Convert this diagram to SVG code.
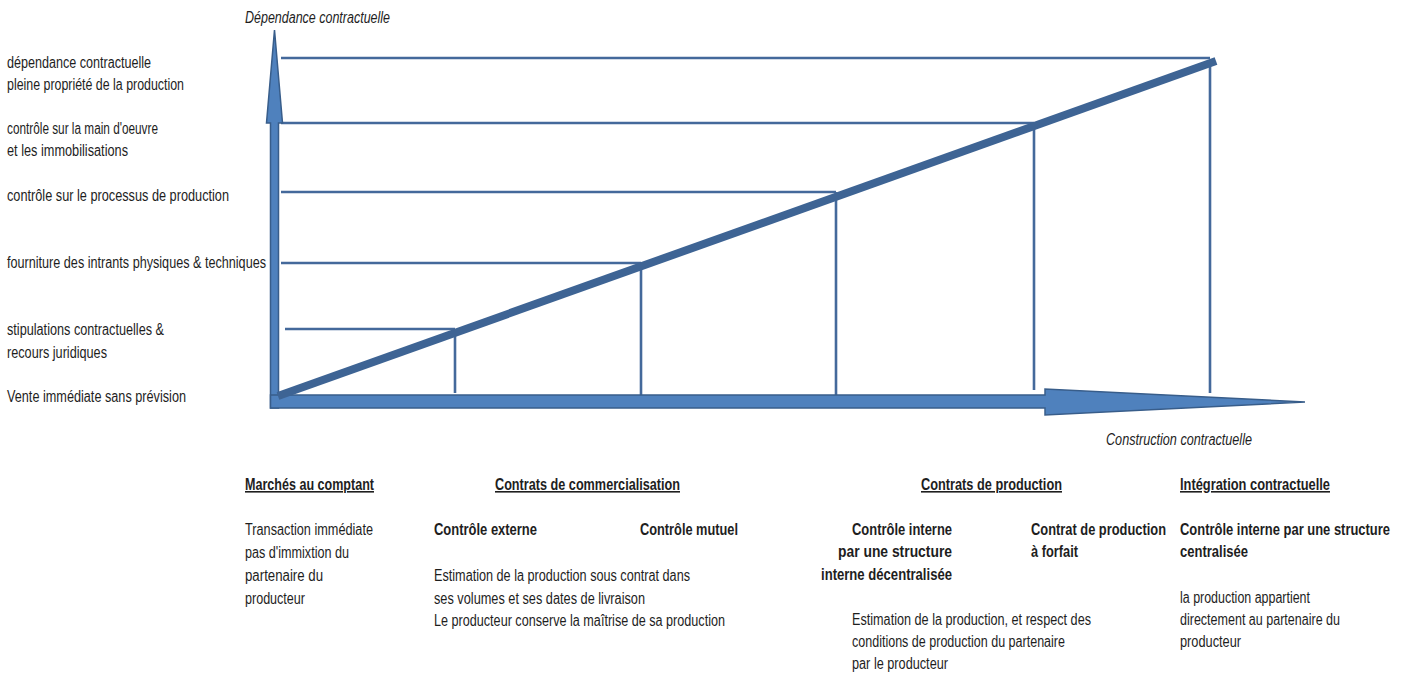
<svg xmlns="http://www.w3.org/2000/svg" width="1405" height="673" viewBox="0 0 1405 673">
<style>
text{font-family:"Liberation Sans",Arial,sans-serif;font-size:16px;fill:#1e1e1e}
.it{font-style:italic}
.b{font-weight:bold}
.h{font-weight:bold;text-decoration:underline}
.thin{stroke:#44699b;stroke-width:2.6;fill:none}
.axis{fill:#4f81bd;stroke:#385d8a;stroke-width:1.5}
</style>
<rect width="1405" height="673" fill="#ffffff"/>
<g id="connectors">
<line class="thin" x1="281" y1="58" x2="1210" y2="58"/>
<line class="thin" x1="281" y1="123" x2="1034" y2="123"/>
<line class="thin" x1="281" y1="192" x2="836" y2="192"/>
<line class="thin" x1="281" y1="263" x2="641" y2="263"/>
<line class="thin" x1="285" y1="329" x2="455" y2="329"/>
<line class="thin" x1="1210" y1="62" x2="1210" y2="393"/>
<line class="thin" x1="1034" y1="123" x2="1034" y2="390"/>
<line class="thin" x1="836" y1="192" x2="836" y2="395"/>
<line class="thin" x1="641" y1="263" x2="641" y2="395"/>
<line class="thin" x1="455" y1="329" x2="455" y2="393"/>
</g>
<g id="axis-y">
<polygon class="axis" points="270.5,408 270.5,123 266.5,123 274.5,30 282.5,123 278.5,123 278.5,408"/>
</g>
<g id="axis-x">
<polygon class="axis" points="270.5,395 1045,395 1045,389 1305,402 1045,415 1045,408 270.5,408"/>
</g>
<g id="diagonal">
<line x1="278" y1="396" x2="1216" y2="61" stroke="#3e6494" stroke-width="8"/>
</g>
<g id="axis-titles">
<text class="it" x="245" y="23" textLength="145" lengthAdjust="spacingAndGlyphs">Dépendance contractuelle</text>
<text class="it" x="1106" y="445" textLength="146" lengthAdjust="spacingAndGlyphs">Construction contractuelle</text>
</g>
<g id="levels">
<text x="7" y="68" textLength="144" lengthAdjust="spacingAndGlyphs">dépendance contractuelle</text>
<text x="7" y="90" textLength="177" lengthAdjust="spacingAndGlyphs">pleine propriété de la production</text>
<text x="7" y="134" textLength="151" lengthAdjust="spacingAndGlyphs">contrôle sur la main d'oeuvre</text>
<text x="7" y="156" textLength="121" lengthAdjust="spacingAndGlyphs">et les immobilisations</text>
<text x="7" y="201" textLength="222" lengthAdjust="spacingAndGlyphs">contrôle sur le processus de production</text>
<text x="7" y="268" textLength="259" lengthAdjust="spacingAndGlyphs">fourniture des intrants physiques &amp; techniques</text>
<text x="7" y="335" textLength="157" lengthAdjust="spacingAndGlyphs">stipulations contractuelles &amp;</text>
<text x="7" y="358" textLength="100" lengthAdjust="spacingAndGlyphs">recours juridiques</text>
<text x="7" y="402" textLength="179" lengthAdjust="spacingAndGlyphs">Vente immédiate sans prévision</text>
</g>
<g id="marches">
<text class="h" x="245" y="490" textLength="129" lengthAdjust="spacingAndGlyphs">Marchés au comptant</text>
<text x="245" y="535" textLength="128" lengthAdjust="spacingAndGlyphs">Transaction immédiate</text>
<text x="245" y="558" textLength="104" lengthAdjust="spacingAndGlyphs">pas d'immixtion du</text>
<text x="245" y="581" textLength="78" lengthAdjust="spacingAndGlyphs">partenaire du</text>
<text x="245" y="604" textLength="60" lengthAdjust="spacingAndGlyphs">producteur</text>
</g>
<g id="commercialisation">
<text class="h" x="495" y="490" textLength="185" lengthAdjust="spacingAndGlyphs">Contrats de commercialisation</text>
<text class="b" x="434" y="535" textLength="103" lengthAdjust="spacingAndGlyphs">Contrôle externe</text>
<text class="b" x="640" y="535" textLength="98" lengthAdjust="spacingAndGlyphs">Contrôle mutuel</text>
<text x="434" y="581" textLength="256" lengthAdjust="spacingAndGlyphs">Estimation de la production sous contrat dans</text>
<text x="434" y="604" textLength="211" lengthAdjust="spacingAndGlyphs">ses volumes et ses dates de livraison</text>
<text x="434" y="626" textLength="291" lengthAdjust="spacingAndGlyphs">Le producteur conserve la maîtrise de sa production</text>
</g>
<g id="production">
<text class="h" x="921" y="490" textLength="141" lengthAdjust="spacingAndGlyphs">Contrats de production</text>
<text class="b" x="852" y="535" textLength="100" lengthAdjust="spacingAndGlyphs">Contrôle interne</text>
<text class="b" x="838" y="557" textLength="114" lengthAdjust="spacingAndGlyphs">par une structure</text>
<text class="b" x="821" y="580" textLength="131" lengthAdjust="spacingAndGlyphs">interne décentralisée</text>
<text class="b" x="1031" y="535" textLength="135" lengthAdjust="spacingAndGlyphs">Contrat de production</text>
<text class="b" x="1031" y="557" textLength="47" lengthAdjust="spacingAndGlyphs">à forfait</text>
<text x="852" y="625" textLength="239" lengthAdjust="spacingAndGlyphs">Estimation de la production, et respect des</text>
<text x="852" y="647" textLength="213" lengthAdjust="spacingAndGlyphs">conditions de production du partenaire</text>
<text x="852" y="669" textLength="96" lengthAdjust="spacingAndGlyphs">par le producteur</text>
</g>
<g id="integration">
<text class="h" x="1180" y="490" textLength="150" lengthAdjust="spacingAndGlyphs">Intégration contractuelle</text>
<text class="b" x="1180" y="535" textLength="210" lengthAdjust="spacingAndGlyphs">Contrôle interne par une structure</text>
<text class="b" x="1180" y="557" textLength="68" lengthAdjust="spacingAndGlyphs">centralisée</text>
<text x="1180" y="603" textLength="130" lengthAdjust="spacingAndGlyphs">la production appartient</text>
<text x="1180" y="625" textLength="160" lengthAdjust="spacingAndGlyphs">directement au partenaire du</text>
<text x="1180" y="647" textLength="61" lengthAdjust="spacingAndGlyphs">producteur</text>
</g>
</svg>
